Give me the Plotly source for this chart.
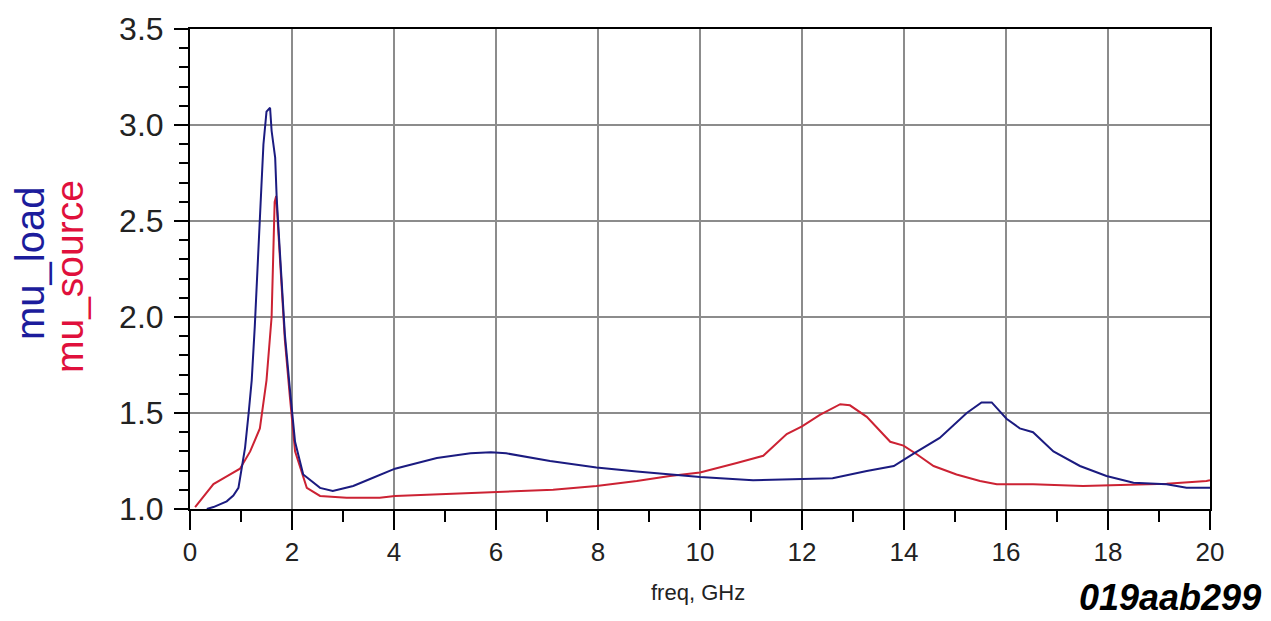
import plotly.graph_objects as go

# mu_load (blue)
load_freq = [0.33, 0.46, 0.72, 0.85, 0.95, 1.01, 1.08, 1.15, 1.21, 1.27, 1.31, 1.34, 1.40, 1.44,
             1.50, 1.57, 1.60, 1.67, 1.70, 1.76, 1.80, 1.86, 1.96, 2.06, 2.22, 2.55, 2.80, 3.20,
             3.53, 4.02, 4.84, 5.50, 5.90, 6.20, 7.06, 7.97, 8.76, 9.41, 10.0, 11.04, 12.02,
             12.60, 13.27, 13.80, 14.18, 14.70, 15.23, 15.52, 15.72, 16.01, 16.27, 16.53, 16.93,
             17.45, 17.97, 18.50, 19.15, 19.54, 20.0]
load_mu = [1.00, 1.01, 1.04, 1.07, 1.11, 1.20, 1.32, 1.50, 1.67, 1.95, 2.19, 2.40, 2.68, 2.90,
           3.07, 3.09, 2.97, 2.83, 2.62, 2.35, 2.155, 1.91, 1.62, 1.35, 1.18, 1.11, 1.094, 1.12,
           1.156, 1.21, 1.266, 1.29, 1.295, 1.29, 1.25, 1.216, 1.195, 1.18, 1.167, 1.15, 1.156,
           1.16, 1.198, 1.224, 1.287, 1.37, 1.50, 1.555, 1.555, 1.47, 1.42, 1.40, 1.30,
           1.224, 1.172, 1.137, 1.129, 1.111, 1.111]

# mu_source (red)
source_freq = [0.10, 0.46, 0.72, 0.98, 1.18, 1.37, 1.50, 1.57, 1.60, 1.63, 1.66, 1.69, 1.73,
               1.78, 1.86, 1.96, 2.06, 2.29, 2.55, 3.07, 3.72, 4.02, 5.49, 6.47, 7.12, 7.97,
               8.76, 9.41, 10.0, 10.72, 11.24, 11.70, 12.0, 12.35, 12.75, 12.94, 13.27, 13.73,
               13.99, 14.25, 14.58, 15.03, 15.49, 15.82, 16.53, 17.51, 18.50, 19.15, 19.93, 20.0]
source_mu = [1.01, 1.13, 1.17, 1.21, 1.30, 1.42, 1.67, 1.88, 2.00, 2.30, 2.60, 2.63, 2.45,
             2.20, 1.88, 1.58, 1.30, 1.11, 1.068, 1.059, 1.059, 1.068, 1.085, 1.094, 1.10, 1.12,
             1.146, 1.172, 1.19, 1.24, 1.277, 1.39, 1.43, 1.49, 1.546, 1.54, 1.48, 1.35,
             1.33, 1.285, 1.224, 1.18, 1.146, 1.129, 1.129, 1.12, 1.125, 1.132, 1.146, 1.15]

x_ticks = [0, 2, 4, 6, 8, 10, 12, 14, 16, 18, 20]
y_ticks = [1.0, 1.5, 2.0, 2.5, 3.0, 3.5]

BLUE = "#1b1b80"
RED = "#cc2233"
FONT = "Liberation Sans, Arial, sans-serif"

fig = go.Figure()
fig.add_trace(go.Scatter(x=source_freq, y=source_mu, mode="lines", name="mu_source",
                         line=dict(color=RED, width=2)))
fig.add_trace(go.Scatter(x=load_freq, y=load_mu, mode="lines", name="mu_load",
                         line=dict(color=BLUE, width=2)))

L, R, T, B = 190, 61, 29, 112
W, H = 1271, 621
pw, ph = W - L - R, H - T - B

def px(xp):
    return (xp - L) / pw

def py(yp):
    return (H - B - yp) / ph

fig.update_layout(
    width=W, height=H,
    margin=dict(l=L, r=R, t=T, b=B),
    paper_bgcolor="white", plot_bgcolor="white",
    showlegend=False,
    font=dict(family=FONT, color="#222"),
    xaxis=dict(range=[0, 20], tickvals=x_ticks, ticktext=[str(v) for v in x_ticks],
               showgrid=True, gridcolor="#8c8c8c", gridwidth=1.5,
               showline=True, linecolor="black", linewidth=2, mirror=True,
               ticks="outside", ticklen=19, tickwidth=2, tickcolor="black",
               minor=dict(dtick=1, ticks="outside", ticklen=11, tickwidth=2, tickcolor="black", showgrid=False),
               tickfont=dict(size=26, family=FONT, color="#222"),
               zeroline=False, ticklabelstandoff=0),
    yaxis=dict(range=[1.0, 3.5], tickvals=y_ticks, ticktext=["%.1f" % v for v in y_ticks],
               showgrid=True, gridcolor="#8c8c8c", gridwidth=1.5,
               showline=True, linecolor="black", linewidth=2, mirror=True,
               ticks="outside", ticklen=14, tickwidth=2, tickcolor="black",
               minor=dict(dtick=0.1, ticks="outside", ticklen=9, tickwidth=2, tickcolor="black", showgrid=False),
               tickfont=dict(size=32, family=FONT, color="#222"),
               zeroline=False, ticklabelstandoff=4),
    annotations=[
        dict(text="mu_load", x=px(30), y=py(264), xref="paper", yref="paper",
             textangle=-90, showarrow=False, xanchor="center", yanchor="middle",
             font=dict(size=40, family=FONT, color="#1c1c9c")),
        dict(text="mu_source", x=px(69), y=py(277), xref="paper", yref="paper",
             textangle=-90, showarrow=False, xanchor="center", yanchor="middle",
             font=dict(size=39, family=FONT, color="#e0103c")),
        dict(text="freq, GHz", x=px(698), y=py(592), xref="paper", yref="paper",
             showarrow=False, xanchor="center", yanchor="middle",
             font=dict(size=22, family=FONT, color="#222")),
        dict(text="<b><i>019aab299</i></b>", x=px(1263), y=py(597), xref="paper", yref="paper",
             showarrow=False, xanchor="right", yanchor="middle",
             font=dict(size=36, family=FONT, color="black")),
    ],
)

fig.write_html("out.html")
